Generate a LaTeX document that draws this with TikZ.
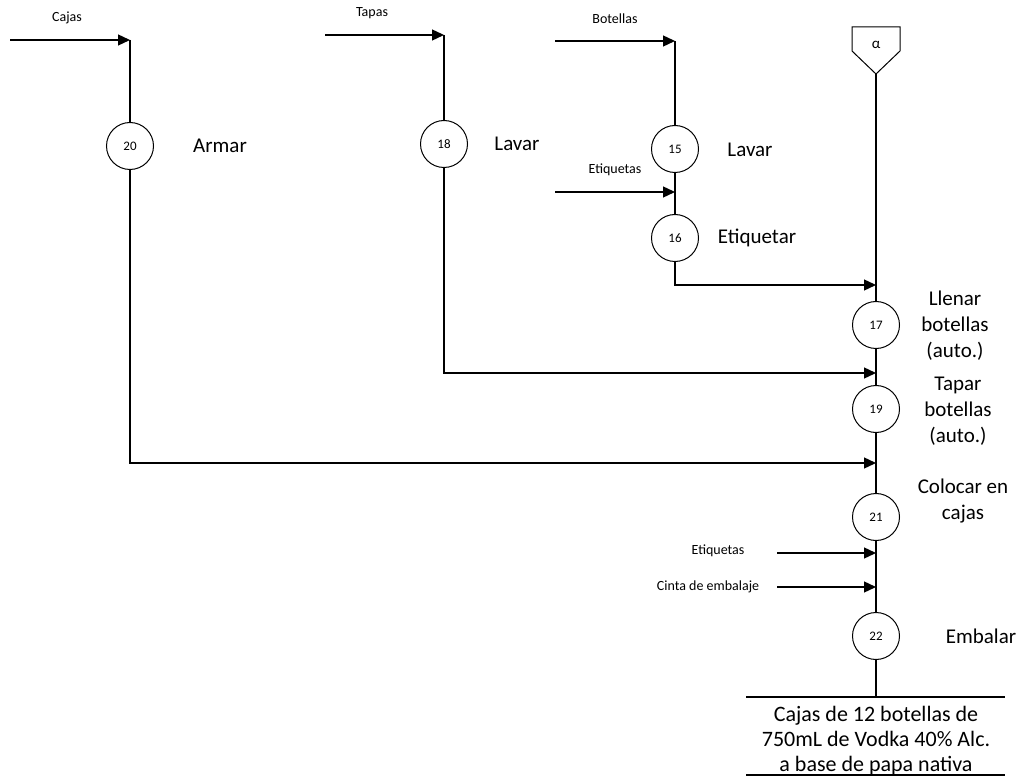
\documentclass[tikz,border=0pt]{standalone}
\usepackage{fontspec}
\setmainfont{Carlito}
\usetikzlibrary{arrows.meta}
\tikzset{
  op/.style={draw, circle, minimum size=47pt, inner sep=0pt, font=\fontsize{13}{15}\selectfont, line width=1pt},
  ln/.style={line width=1.3pt},
  arr/.style={line width=1.3pt, -{Triangle[length=12pt,width=11pt]}},
  small/.style={font=\fontsize{14}{16}\selectfont, inner sep=0pt},
  big/.style={font=\fontsize{21}{26}\selectfont, inner sep=0pt, align=center},
}
\begin{document}
\begin{tikzpicture}[x=1pt,y=-1pt]
\useasboundingbox (0,0) rectangle (1021,778);
% column 20
\coordinate (cajasS) at (10,40);
\coordinate (cajasE) at (130,40);
\node[small] (lcajas) at (67,18) {Cajas};
\node[op] (c20) at (130,146) {20};
\node[big] (tarmar) at (220,146) {Armar};
\draw[arr] (cajasS) -- (cajasE);
\draw[ln] (cajasE) -- (c20.north);
% column 18
\coordinate (tapasS) at (325,35);
\coordinate (tapasE) at (444,35);
\node[small] (ltapas) at (372,13) {Tapas};
\node[op] (c18) at (444,144) {18};
\node[big] (tlavar1) at (517,144) {Lavar};
\draw[arr] (tapasS) -- (tapasE);
\draw[ln] (tapasE) -- (c18.north);
% column 15/16
\coordinate (botS) at (555,41);
\coordinate (botE) at (675,41);
\node[small] (lbot) at (615,19) {Botellas};
\node[op] (c15) at (675,149) {15};
\node[big] (tlavar2) at (750,150) {Lavar};
\coordinate (etq1S) at (555,192);
\coordinate (etq1E) at (675,192);
\node[small] (letq1) at (615,170) {Etiquetas};
\node[op] (c16) at (675,238) {16};
\node[big] (tetiq) at (757,238) {Etiquetar};
\draw[arr] (botS) -- (botE);
\draw[ln] (botE) -- (c15.north);
\draw[ln] (c15.south) -- (c16.north);
\draw[arr] (etq1S) -- (etq1E);
% main column
\coordinate (alphaTip) at (876,74);
\draw[line width=1pt] (852,27) -- (900,27) -- (900,51) -- (alphaTip) -- (852,51) -- cycle;
\node[font=\fontsize{15}{17}\selectfont, inner sep=0pt] (alpha) at (876,45) {α};
\node[op] (c17) at (876,325) {17};
\node[op] (c19) at (876,409) {19};
\node[op] (c21) at (876,517) {21};
\node[op] (c22) at (876,636) {22};
\coordinate (outTop) at (876,697);
\draw[ln] (alphaTip) -- (c17.north);
\draw[ln] (c17.south) -- (c19.north);
\draw[ln] (c19.south) -- (c21.north);
\draw[ln] (c21.south) -- (c22.north);
\draw[ln] (c22.south) -- (outTop);
\node[big, align=center] (t17) at (955,326) {Llenar\\botellas\\(auto.)};
\node[big, align=center] (t19) at (958,411) {Tapar\\botellas\\(auto.)};
\node[big, align=center] (t21) at (963,501) {Colocar en\\cajas};
\node[big] (t22) at (981,636) {Embalar};
% joins into main column
\coordinate (j16) at (876,285);
\coordinate (j18) at (876,373);
\coordinate (j20) at (876,463);
\draw[arr] (c16.south) |- (j16);
\draw[arr] (c18.south) |- (j18);
\draw[arr] (c20.south) |- (j20);
% lower inputs
\coordinate (etq2S) at (777,553);
\coordinate (etq2E) at (876,553);
\node[small] (letq2) at (718,551) {Etiquetas};
\coordinate (cintaS) at (777,587);
\coordinate (cintaE) at (876,587);
\node[small] (lcinta) at (708,587) {Cinta de embalaje};
\draw[arr] (etq2S) -- (etq2E);
\draw[arr] (cintaS) -- (cintaE);
% output
\coordinate (oL) at (746,697);
\coordinate (oR) at (1005,697);
\coordinate (bL) at (746,775);
\coordinate (bR) at (1005,775);
\draw[ln] (oL) -- (oR);
\draw[ln] (bL) -- (bR);
\node[big, font=\fontsize{22}{25}\selectfont] (tout) at (876,741) {Cajas de 12 botellas de\\750mL de Vodka 40\% Alc.\\a base de papa nativa};
\end{tikzpicture}
\end{document}
